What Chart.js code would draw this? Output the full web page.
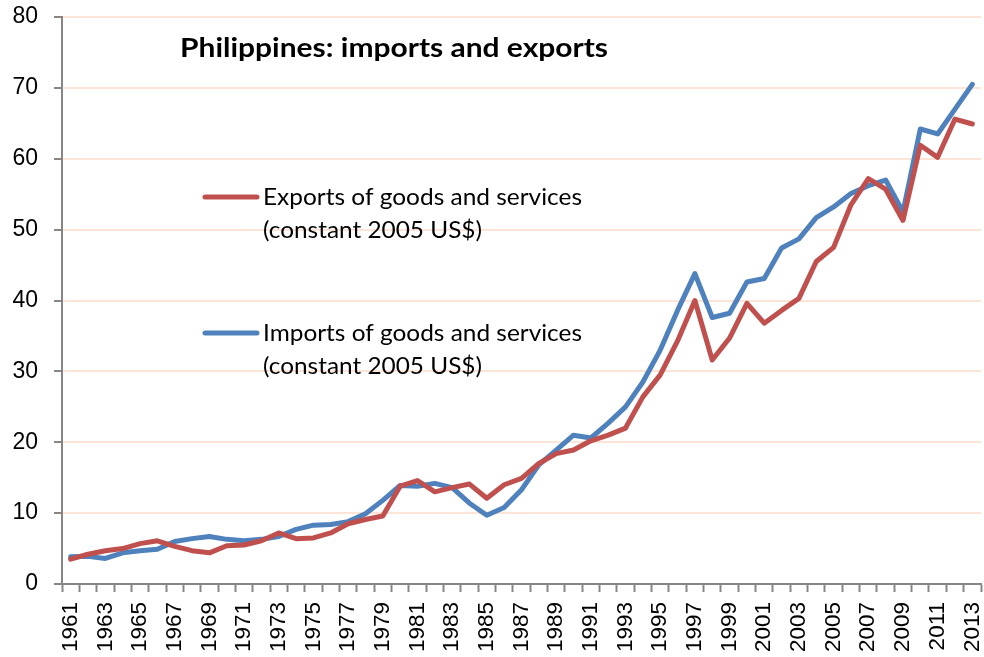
<!DOCTYPE html>
<html>
<head>
<meta charset="utf-8">
<script src="https://cdn.jsdelivr.net/npm/chart.js@4"></script>
<style>
  html, body { margin: 0; padding: 0; background: #fff; }
  #wrap { width: 984px; height: 657px; }
</style>
</head>
<body>
<div id="wrap"><canvas id="grafico" width="984" height="657"></canvas></div>
<script>
const anos = [1961,1962,1963,1964,1965,1966,1967,1968,1969,1970,
              1971,1972,1973,1974,1975,1976,1977,1978,1979,1980,
              1981,1982,1983,1984,1985,1986,1987,1988,1989,1990,
              1991,1992,1993,1994,1995,1996,1997,1998,1999,2000,
              2001,2002,2003,2004,2005,2006,2007,2008,2009,2010,
              2011,2012,2013];

const exportacoes = [3.5,4.2,4.7,5.0,5.7,6.1,5.3,4.7,4.4,5.4,
                     5.5,6.1,7.2,6.4,6.5,7.2,8.5,9.1,9.6,13.8,
                     14.6,13.0,13.6,14.1,12.1,14.0,14.9,17.0,18.4,18.9,
                     20.2,21.0,22.0,26.4,29.5,34.3,40.0,31.6,34.7,39.6,
                     36.8,38.6,40.3,45.5,47.5,53.5,57.2,55.7,51.3,61.9,
                     60.2,65.6,64.9];

const importacoes = [3.85,3.9,3.6,4.4,4.7,4.9,6.0,6.4,6.7,6.3,
                     6.1,6.3,6.7,7.7,8.3,8.4,8.8,9.9,11.8,13.9,
                     13.8,14.2,13.6,11.4,9.7,10.8,13.3,16.8,18.9,21.0,
                     20.6,22.7,25.0,28.5,33.0,38.6,43.8,37.6,38.2,42.6,
                     43.1,47.4,48.7,51.7,53.2,55.1,56.2,57.0,52.5,64.2,
                     63.5,67.0,70.5];

const titulo = 'Philippines: imports and exports';
const legendas = [
  ['Exports of goods and services', '(constant 2005 US$)'],
  ['Imports of goods and services', '(constant 2005 US$)']
];

const VERMELHO = '#C0504D';
const AZUL = '#4F81BD';
const FONTE = 'Lato, "Open Sans", sans-serif';
const FONTE_EIXO = '"Liberation Sans", Arial, sans-serif';

// escreve um texto esticado na horizontal ate a largura pedida
function textoLargura(ctx, texto, x, y, largura) {
  const w = ctx.measureText(texto).width;
  ctx.save();
  ctx.translate(x, y);
  ctx.scale(largura / w, 1);
  ctx.fillText(texto, 0, 0);
  ctx.restore();
}

// titulo e legenda desenhados dentro da area do grafico
const textosPlugin = {
  id: 'textos',
  afterDraw(chart) {
    const ctx = chart.ctx;
    ctx.save();
    ctx.fillStyle = '#000';
    ctx.textBaseline = 'alphabetic';
    ctx.font = 'bold 26px ' + FONTE;
    textoLargura(ctx, titulo, 180, 57, 428);

    const blocos = [{ y: 197, cor: VERMELHO }, { y: 333, cor: AZUL }];
    blocos.forEach((b, i) => {
      ctx.strokeStyle = b.cor;
      ctx.lineWidth = 5;
      ctx.lineCap = 'round';
      ctx.beginPath();
      ctx.moveTo(205, b.y);
      ctx.lineTo(257, b.y);
      ctx.stroke();
      ctx.font = '23px ' + FONTE;
      ctx.fillStyle = '#000';
      textoLargura(ctx, legendas[i][0], 263, b.y + 8, 319);
      textoLargura(ctx, legendas[i][1], 263, b.y + 41, 219);
    });
    ctx.restore();
  }
};

const ctx = document.getElementById('grafico').getContext('2d');
new Chart(ctx, {
  type: 'line',
  data: {
    labels: anos,
    datasets: [
      {
        label: legendas[0].join(' '),
        data: exportacoes,
        borderColor: VERMELHO,
        backgroundColor: VERMELHO,
        borderWidth: 5,
        borderCapStyle: 'round',
        borderJoinStyle: 'round',
        pointRadius: 0,
        tension: 0
      },
      {
        label: legendas[1].join(' '),
        data: importacoes,
        borderColor: AZUL,
        backgroundColor: AZUL,
        borderWidth: 5,
        borderCapStyle: 'round',
        borderJoinStyle: 'round',
        pointRadius: 0,
        tension: 0
      }
    ]
  },
  options: {
    responsive: false,
    animation: false,
    layout: { padding: { top: 17, right: 3, left: 0, bottom: 0 } },
    plugins: {
      legend: { display: false },
      title: { display: false },
      tooltip: { enabled: false }
    },
    scales: {
      x: {
        offset: true,
        afterFit(scale) {
          scale.height = 73;
          scale.paddingLeft = 0;
          scale.paddingRight = 0;
        },
        grid: {
          offset: true,
          drawOnChartArea: false,
          drawTicks: true,
          tickLength: 8,
          tickColor: '#868686',
          tickWidth: 2
        },
        border: { color: '#868686', width: 2 },
        ticks: {
          autoSkip: false,
          maxRotation: 90,
          minRotation: 90,
          padding: 10,
          color: '#000',
          font: { family: FONTE_EIXO, size: 22.5 },
          callback(valor, indice) {
            return indice % 2 === 0 ? this.getLabelForValue(valor) : '';
          }
        }
      },
      y: {
        min: 0,
        max: 80,
        afterFit(scale) {
          scale.width = 62;
          scale.paddingTop = 0;
          scale.paddingBottom = 0;
        },
        grid: {
          color: '#FCE4D6',
          lineWidth: 2,
          tickColor: '#868686',
          tickLength: 8,
          tickWidth: 2
        },
        border: { color: '#868686', width: 2 },
        ticks: {
          stepSize: 10,
          padding: 16,
          color: '#000',
          font: { family: FONTE_EIXO, size: 23 }
        }
      }
    }
  },
  plugins: [textosPlugin]
});
</script>
</body>
</html>
